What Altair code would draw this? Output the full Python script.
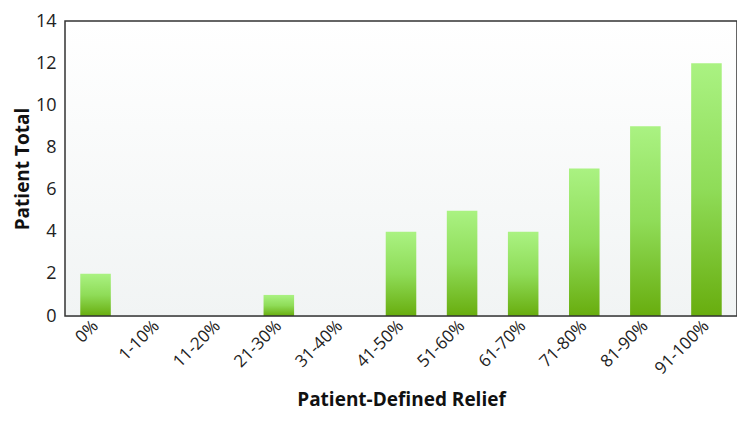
import altair as alt
import pandas as pd

categories = ["0%", "1-10%", "11-20%", "21-30%", "31-40%", "41-50%",
              "51-60%", "61-70%", "71-80%", "81-90%", "91-100%"]
totals = [2, 0, 0, 1, 0, 4, 5, 4, 7, 9, 12]
y_ticks = [0, 2, 4, 6, 8, 10, 12, 14]

df = pd.DataFrame({"cat": categories, "total": totals})

W, H = 672, 295
FONT = "Open Sans"

one = pd.DataFrame({"a": [0]})

bg = alt.Chart(one).mark_rect(
    color=alt.Gradient(
        gradient="linear", x1=0, x2=0, y1=0, y2=1,
        stops=[alt.GradientStop(color="#ffffff", offset=0),
               alt.GradientStop(color="#f1f4f4", offset=1)]
    )
).encode(x=alt.value(0), x2=alt.value(W), y=alt.value(0), y2=alt.value(H))

frame = alt.Chart(one).mark_rect(
    fillOpacity=0, stroke="#333333", strokeWidth=1.5
).encode(x=alt.value(0), x2=alt.value(W), y=alt.value(0), y2=alt.value(H))

bars = alt.Chart(df).mark_bar(
    color=alt.Gradient(
        gradient="linear", x1=0, x2=0, y1=0, y2=1,
        stops=[alt.GradientStop(color="#aaf282", offset=0),
               alt.GradientStop(color="#8fdc58", offset=0.5),
               alt.GradientStop(color="#68ad0e", offset=1)]
    )
).encode(
    x=alt.X("cat:N", sort=categories, title="Patient-Defined Relief",
            scale=alt.Scale(paddingInner=0.5, paddingOuter=0.25),
            axis=alt.Axis(labelAngle=-45, labelAlign="right", labelBaseline="middle",
                          labelFontSize=17, labelColor="#222222", labelFont=FONT,
                          ticks=False, domain=False, labelPadding=7,
                          titleFontSize=19, titleFont=FONT, titleFontWeight="bold",
                          titleColor="#111111", titlePadding=14)),
    y=alt.Y("total:Q", title="Patient Total",
            scale=alt.Scale(domain=[0, 14], nice=False),
            axis=alt.Axis(values=y_ticks, labelFontSize=18, labelColor="#222222",
                          labelFont=FONT, ticks=False, domain=False, labelPadding=9,
                          gridColor="#e3e7e7", gridWidth=1,
                          titleFontSize=19, titleFont=FONT, titleFontWeight="bold",
                          titleColor="#111111", titlePadding=3))
)

chart = alt.layer(bg, bars, frame).properties(
    width=W, height=H,
    autosize=alt.AutoSizeParams(type="none"),
    padding={"left": 57, "top": 13, "right": 0, "bottom": 98},
).configure_view(stroke=None)

chart.save("out.html", embed_options={"renderer": "svg", "actions": False})
